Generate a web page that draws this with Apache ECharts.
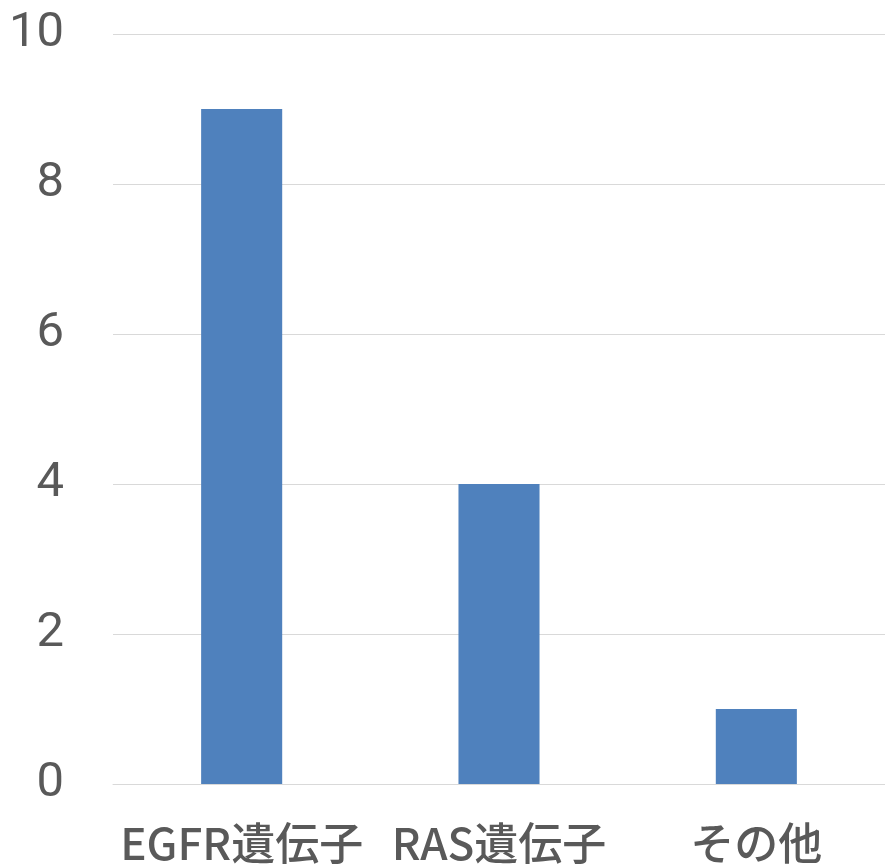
<!DOCTYPE html>
<html>
<head>
<meta charset="utf-8">
<style>
  html, body { margin: 0; padding: 0; background: #fff; }
  #chart { width: 885px; height: 865px; }
</style>
<script src="https://cdn.jsdelivr.net/npm/echarts@6/dist/echarts.min.js"></script>
</head>
<body>
<div id="chart"></div>
<script>
// 遺伝子別の件数
const categories = ['EGFR遺伝子', 'RAS遺伝子', 'その他']
const counts = [9, 4, 1]
const yTicks = [0, 2, 4, 6, 8, 10]

const chart = echarts.init(document.getElementById('chart'))
chart.setOption({
	animation: false,
	grid: {
		left: 113,
		right: 0,
		top: 34,
		bottom: 81
	},
	xAxis: {
		type: 'category',
		data: categories,
		axisTick: { show: false },
		axisLine: {
			lineStyle: { color: '#d9d9d9', width: 1 }
		},
		axisLabel: {
			interval: 0,
			margin: 37,
			color: '#595959',
			fontSize: 44,
			fontWeight: 500,
			fontFamily: 'Noto Sans CJK JP'
		}
	},
	yAxis: {
		type: 'value',
		min: yTicks[0],
		max: yTicks[yTicks.length - 1],
		interval: 2,
		axisLine: { show: false },
		axisTick: { show: false },
		splitLine: {
			lineStyle: { color: '#d9d9d9', width: 1 }
		},
		axisLabel: {
			margin: 49,
			color: '#595959',
			fontSize: 49,
			fontFamily: 'Roboto'
		}
	},
	series: [{
		type: 'bar',
		data: counts,
		barWidth: '31.5%',
		itemStyle: {
			color: '#4f81bd'
		}
	}]
})
</script>
</body>
</html>
